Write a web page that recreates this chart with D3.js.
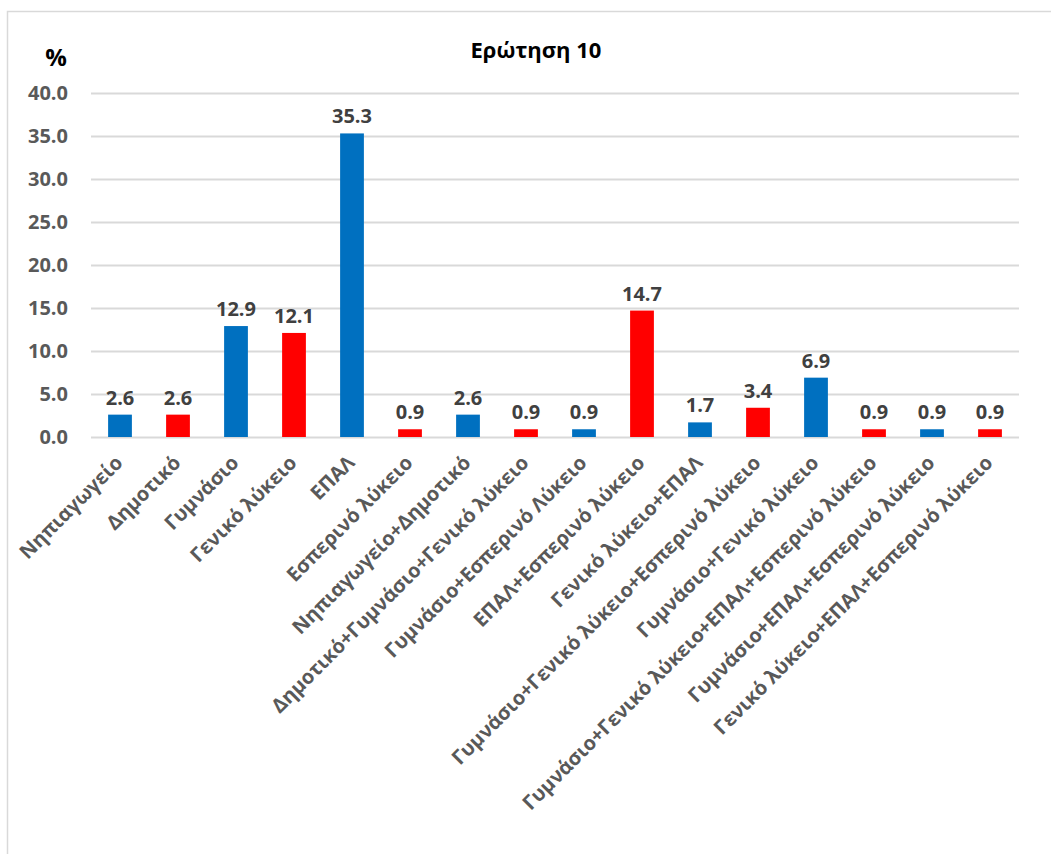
<!DOCTYPE html>
<html>
<head>
<meta charset="utf-8">
<script src="https://cdn.jsdelivr.net/npm/d3@7"></script>
<style>
  body { margin: 0; background: #fff; }
  svg { display: block; font-family: "Open Sans", sans-serif; }
  .grid line { stroke: #d9d9d9; stroke-width: 2; }
  .grid path { display: none; }
</style>
</head>
<body>
<div id="chart"></div>
<script>
// Data
const categories = [
  'Νηπιαγωγείο', 'Δημοτικό', 'Γυμνάσιο', 'Γενικό λύκειο', 'ΕΠΑΛ',
  'Εσπερινό λύκειο', 'Νηπιαγωγείο+Δημοτικό', 'Δημοτικό+Γυμνάσιο+Γενικό λύκειο',
  'Γυμνάσιο+Εσπερινό Λύκειο', 'ΕΠΑΛ+Εσπερινό λύκειο', 'Γενικό λύκειο+ΕΠΑΛ',
  'Γυμνάσιο+Γενικό λύκειο+Εσπερινό λύκειο', 'Γυμνάσιο+Γενικό λύκειο',
  'Γυμνάσιο+Γενικό λύκειο+ΕΠΑΛ+Εσπερινό λύκειο', 'Γυμνάσιο+ΕΠΑΛ+Εσπερινό λύκειο',
  'Γενικό λύκειο+ΕΠΑΛ+Εσπερινό λύκειο'
];
const values = [2.6, 2.6, 12.9, 12.1, 35.3, 0.9, 2.6, 0.9, 0.9, 14.7, 1.7, 3.4, 6.9, 0.9, 0.9, 0.9];
const barColors = ['#0070C0', '#FF0000'];
const yTicks = [0, 5, 10, 15, 20, 25, 30, 35, 40];

// Dimensions
const WIDTH = 1051;
const HEIGHT = 854;
const MARGIN = { top: 93, right: 32, bottom: 417, left: 91 };

const svg = d3.select('#chart')
  .append('svg')
  .attr('width', WIDTH)
  .attr('height', HEIGHT);

// Chart border
svg.append('rect')
  .attr('x', 7.5).attr('y', 11.5)
  .attr('width', 1100).attr('height', 900)
  .attr('fill', 'none')
  .attr('stroke', '#d9d9d9')
  .attr('stroke-width', 1.5);

const x = d3.scaleBand()
  .domain(categories)
  .range([MARGIN.left, WIDTH - MARGIN.right])
  .paddingInner(0.59)
  .paddingOuter(0.295);

const y = d3.scaleLinear()
  .domain([0, 40])
  .range([HEIGHT - MARGIN.bottom, MARGIN.top]);

// Gridlines
svg.append('g')
  .attr('class', 'grid')
  .attr('transform', `translate(${MARGIN.left},0)`)
  .call(d3.axisLeft(y).tickValues(yTicks).tickSize(-(WIDTH - MARGIN.left - MARGIN.right)).tickFormat(''));

// Y tick labels
svg.append('g')
  .selectAll('text')
  .data(yTicks)
  .enter()
  .append('text')
  .attr('x', 68)
  .attr('y', d => y(d))
  .attr('dy', '0.36em')
  .attr('text-anchor', 'end')
  .attr('fill', '#595959')
  .style('font-size', '20px')
  .style('font-weight', 'bold')
  .text(d => d.toFixed(1));

// Bars
svg.append('g')
  .selectAll('rect')
  .data(values)
  .enter()
  .append('rect')
  .attr('x', (d, i) => x(categories[i]))
  .attr('y', d => y(d))
  .attr('width', x.bandwidth())
  .attr('height', d => y(0) - y(d))
  .attr('fill', (d, i) => barColors[i % 2]);

// Value labels
svg.append('g')
  .selectAll('text')
  .data(values)
  .enter()
  .append('text')
  .attr('x', (d, i) => x(categories[i]) + x.bandwidth() / 2)
  .attr('y', d => y(d) - 10)
  .attr('text-anchor', 'middle')
  .attr('fill', '#404040')
  .style('font-size', '20px')
  .style('font-weight', 'bold')
  .text(d => d.toFixed(1));

// Category labels
svg.append('g')
  .selectAll('text')
  .data(categories)
  .enter()
  .append('text')
  .attr('transform', d => `translate(${x(d) + x.bandwidth() / 2 + 4},${y(0) + 27}) rotate(-45)`)
  .attr('text-anchor', 'end')
  .attr('fill', '#595959')
  .style('font-size', '19.9px')
  .style('font-weight', 'bold')
  .text(d => d);

// Title and unit
svg.append('text')
  .attr('x', 536)
  .attr('y', 58)
  .attr('text-anchor', 'middle')
  .attr('fill', '#000')
  .style('font-size', '22px')
  .style('font-weight', 'bold')
  .text('Ερώτηση 10');

svg.append('text')
  .attr('x', 56)
  .attr('y', 66)
  .attr('text-anchor', 'middle')
  .attr('fill', '#000')
  .style('font-size', '24px')
  .style('font-weight', 'bold')
  .text('%');
</script>
</body>
</html>
